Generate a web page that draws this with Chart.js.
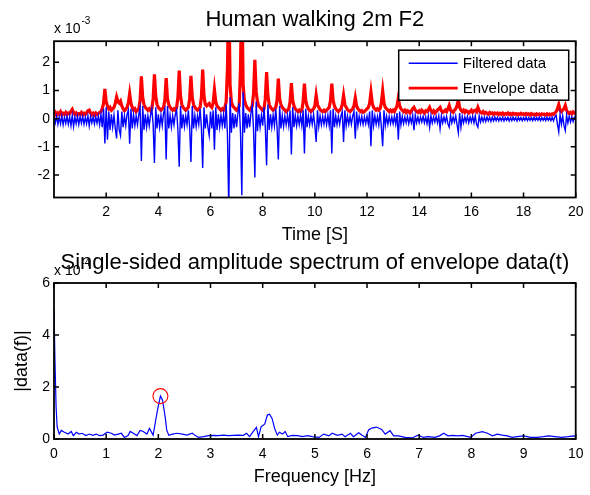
<!DOCTYPE html>
<html><head><meta charset="utf-8">
<script src="https://cdn.jsdelivr.net/npm/chart.js@4.4.1/dist/chart.umd.min.js"></script>
<style>
html,body{margin:0;padding:0;background:#fff;}
#wrap{position:relative;width:590px;height:495px;overflow:hidden;}
#c1{position:absolute;left:0;top:0;}
#c2{position:absolute;left:0;top:247px;}
</style></head><body>
<div id="wrap"><canvas id="c1" width="590" height="250"></canvas><canvas id="c2" width="590" height="248"></canvas></div>
<script>
// ---------- Top plot: time signals (values in units of 1e-3) ----------
const timeStep = 0.05; // s, sample spacing of the arrays below (t = 0.00 ... 20.00), one row = 1 s
const envelopeData = [
  0.15,0.22,0.12,0.20,0.16,0.24,0.13,0.19,0.15,0.22,0.14,0.20,0.18,0.26,0.33,0.22,0.15,0.20,0.13,0.18,
  0.16,0.22,0.13,0.19,0.15,0.21,0.28,0.30,0.20,0.14,0.19,0.13,0.20,0.15,0.18,0.22,0.25,0.35,0.55,1.06,
  0.60,0.45,0.35,0.40,0.30,0.35,0.40,0.55,0.77,0.60,0.55,0.62,0.45,0.35,0.28,0.33,0.40,0.55,0.89,0.55,
  0.40,0.30,0.35,0.25,0.30,0.35,0.65,1.50,0.75,0.50,0.40,0.35,0.30,0.35,0.28,0.35,0.70,1.57,0.80,0.50,
  0.40,0.35,0.30,0.35,0.40,0.65,1.44,0.70,0.50,0.40,0.35,0.30,0.35,0.30,0.40,0.75,1.71,0.80,0.50,0.40,
  0.35,0.30,0.35,0.40,0.70,1.52,0.75,0.50,0.40,0.35,0.30,0.35,0.40,0.75,1.74,0.80,0.50,0.45,0.50,0.54,
  0.45,0.40,0.55,1.03,0.60,0.45,0.40,0.35,0.30,0.35,0.30,0.40,0.60,1.80,5.00,1.20,0.60,0.45,0.40,0.35,
  0.30,0.35,0.45,1.80,5.00,1.20,0.65,0.50,0.40,0.35,0.30,0.35,0.45,0.90,2.09,0.95,0.60,0.45,0.40,0.35,
  0.30,0.35,0.70,1.65,0.80,0.50,0.40,0.35,0.30,0.35,0.40,0.65,1.42,0.70,0.50,0.40,0.35,0.30,0.25,0.30,
  0.35,0.60,1.26,0.65,0.45,0.35,0.30,0.25,0.30,0.25,0.30,0.60,1.24,0.65,0.45,0.35,0.30,0.25,0.30,0.35,
  0.45,0.83,0.50,0.40,0.32,0.28,0.25,0.30,0.25,0.30,0.35,0.40,0.65,1.24,0.65,0.45,0.35,0.30,0.25,0.30,
  0.35,0.50,0.83,0.50,0.40,0.32,0.28,0.25,0.30,0.35,0.45,0.74,0.45,0.35,0.30,0.25,0.28,0.22,0.25,0.30,
  0.35,0.40,0.55,0.94,0.55,0.40,0.35,0.30,0.35,0.30,0.35,0.55,0.98,0.55,0.40,0.35,0.30,0.25,0.30,0.25,
  0.30,0.25,0.35,0.45,0.74,0.45,0.35,0.30,0.25,0.30,0.22,0.28,0.25,0.20,0.28,0.35,0.40,0.30,0.25,0.22,
  0.28,0.22,0.30,0.25,0.20,0.28,0.25,0.32,0.40,0.28,0.22,0.28,0.20,0.25,0.30,0.35,0.40,0.28,0.22,0.25,
  0.30,0.25,0.35,0.47,0.30,0.25,0.22,0.30,0.35,0.45,0.65,0.40,0.30,0.25,0.30,0.22,0.28,0.25,0.20,0.25,
  0.30,0.22,0.28,0.30,0.25,0.40,0.28,0.22,0.20,0.25,0.18,0.22,0.20,0.16,0.22,0.18,0.20,0.15,0.20,0.17,
  0.20,0.15,0.19,0.16,0.20,0.14,0.18,0.16,0.20,0.15,0.18,0.14,0.19,0.16,0.18,0.14,0.17,0.15,0.19,0.15,
  0.17,0.14,0.18,0.15,0.17,0.13,0.18,0.15,0.16,0.13,0.17,0.14,0.16,0.13,0.17,0.15,0.16,0.13,0.17,0.14,
  0.16,0.13,0.17,0.15,0.20,0.25,0.35,0.50,0.30,0.25,0.30,0.35,0.47,0.30,0.22,0.18,0.22,0.17,0.24,0.20,
  0.18
];
const filteredData = [
  0.05,-0.15,0.08,-0.20,0.06,-0.18,0.10,-0.22,0.05,-0.17,0.08,-0.20,0.07,-0.25,0.12,-0.28,0.06,-0.18,0.09,-0.21,
  0.07,-0.16,0.08,-0.20,0.05,-0.18,0.10,-0.26,0.08,-0.15,0.06,-0.19,0.07,-0.16,0.10,-0.22,0.15,-0.30,0.35,-0.88,
  0.40,-0.75,0.25,-0.40,0.15,-0.30,0.12,-0.35,-0.70,0.30,-0.40,-0.60,0.25,-0.30,0.10,-0.25,0.15,0.30,-0.89,0.35,
  -0.35,0.15,-0.25,0.10,-0.22,0.15,0.40,-1.50,0.45,-0.40,0.15,-0.30,0.10,-0.25,0.12,0.35,-0.20,-1.57,0.40,-0.35,
  0.15,-0.30,0.12,-0.25,0.20,0.35,-1.45,0.45,-0.35,0.12,-0.30,0.10,-0.22,0.15,0.30,-0.40,-1.71,0.45,-0.35,0.15,
  -0.28,0.10,-0.22,0.30,-0.30,-1.54,0.45,-0.35,0.12,-0.28,0.10,-0.20,0.35,-0.30,-1.75,0.40,-0.35,0.15,-0.30,-0.60,
  0.25,-0.35,0.30,-1.10,0.40,-0.40,0.15,-0.30,0.12,-0.25,0.15,-0.35,0.50,-0.60,-3.20,0.77,-0.50,0.20,-0.35,0.15,
  -0.30,0.20,0.55,-0.50,-2.72,0.95,-0.50,0.20,-0.35,0.15,-0.30,0.20,0.45,-0.40,-2.09,0.60,-0.45,0.15,-0.30,0.12,
  -0.25,0.40,-0.30,-1.66,0.50,-0.40,0.15,-0.30,0.12,-0.25,0.35,-0.30,-1.45,0.45,-0.35,0.12,-0.28,0.10,-0.22,0.12,
  -0.25,0.30,-1.27,0.40,-0.30,0.12,-0.25,0.10,-0.22,0.12,-0.25,0.30,-1.24,0.35,-0.30,0.10,-0.22,0.10,-0.20,0.15,
  -0.25,-0.83,0.30,-0.28,0.10,-0.22,0.08,-0.20,0.10,-0.22,0.12,-0.25,0.30,-1.24,0.35,-0.30,0.10,-0.22,0.08,-0.20,
  0.10,0.25,-0.83,0.30,-0.25,0.10,-0.20,0.08,-0.20,0.10,0.25,-0.71,0.25,-0.25,0.08,-0.18,0.08,-0.20,0.06,-0.18,
  0.08,-0.20,0.25,-0.98,0.30,-0.25,0.10,-0.20,0.08,-0.22,0.25,-0.30,-0.98,0.30,-0.25,0.08,-0.20,0.08,-0.18,0.06,
  -0.18,0.08,-0.20,0.20,-0.75,0.25,-0.22,0.08,-0.18,0.06,-0.15,0.08,-0.18,0.06,-0.15,0.12,-0.41,0.12,-0.15,0.06,
  -0.15,0.06,-0.12,0.08,-0.15,0.06,-0.18,0.10,-0.30,0.10,-0.15,0.06,-0.12,0.08,-0.15,0.10,-0.35,0.10,-0.15,0.06,
  -0.12,0.08,-0.18,-0.30,0.12,-0.15,0.06,-0.12,0.10,-0.20,-0.50,0.20,-0.30,0.08,-0.15,0.06,-0.12,0.08,-0.15,0.06,
  -0.12,0.08,-0.15,0.10,-0.20,-0.30,0.10,-0.12,0.06,-0.10,0.05,-0.10,0.06,-0.08,0.05,-0.10,0.05,-0.08,0.06,-0.07,
  0.05,-0.08,0.04,-0.07,0.05,-0.08,0.04,-0.06,0.05,-0.08,0.04,-0.07,0.05,-0.06,0.04,-0.08,0.05,-0.06,0.04,-0.07,
  0.04,-0.06,0.05,-0.07,0.04,-0.06,0.04,-0.07,0.05,-0.06,0.04,-0.06,0.05,-0.07,0.04,-0.06,0.04,-0.07,0.05,-0.06,
  0.04,-0.07,0.05,-0.08,0.06,0.12,-0.20,-0.47,0.15,-0.20,0.10,-0.25,-0.42,0.12,-0.15,0.08,-0.12,0.06,-0.10,0.05,
  -0.05
];
const timeTicks = [2,4,6,8,10,12,14,16,18,20];
const topYTicks = [-2,-1,0,1,2];

// ---------- Bottom plot: spectrum (values in units of 1e-4) ----------
const freqHz = [0,0.02,0.04,0.06,0.1,0.14,0.2,0.27,0.33,0.37,
  0.43,0.48,0.54,0.61,0.68,0.74,0.81,0.87,0.94,1.02,
  1.1,1.16,1.23,1.29,1.35,1.42,1.46,1.52,1.59,1.65,
  1.71,1.78,1.83,1.9,1.95,1.99,2.04,2.08,2.13,2.16,
  2.2,2.27,2.36,2.46,2.55,2.65,2.71,2.77,2.87,2.96,
  3.06,3.15,3.25,3.34,3.44,3.53,3.63,3.69,3.75,3.82,
  3.88,3.92,3.97,4.04,4.09,4.13,4.18,4.23,4.28,4.32,
  4.38,4.43,4.48,4.57,4.67,4.76,4.86,4.95,5.08,5.17,
  5.27,5.33,5.43,5.52,5.58,5.68,5.74,5.84,5.9,5.97,
  6.03,6.09,6.18,6.28,6.35,6.44,6.51,6.6,6.73,6.86,
  6.98,7.08,7.17,7.3,7.39,7.47,7.55,7.64,7.74,7.83,
  7.93,7.99,8.08,8.21,8.31,8.4,8.5,8.59,8.69,8.78,
  8.88,9.0,9.13,9.26,9.38,9.48,9.6,9.73,9.86,9.95,
  10.0];
const amplitude = [4.99,2.9,1.24,0.47,0.19,0.33,0.26,0.19,0.29,0.13,
  0.26,0.19,0.22,0.13,0.19,0.14,0.19,0.13,0.15,0.26,
  0.22,0.15,0.19,0.22,0.06,0.13,0.29,0.22,0.13,0.33,
  0.29,0.19,0.41,0.15,0.73,1.18,1.65,1.5,0.86,0.35,
  0.14,0.19,0.22,0.19,0.15,0.22,0.13,0.06,0.09,0.13,
  0.14,0.13,0.15,0.13,0.14,0.15,0.14,0.22,0.09,0.29,
  0.45,0.09,0.47,0.58,0.92,0.95,0.79,0.4,0.15,0.26,
  0.19,0.29,0.09,0.14,0.13,0.09,0.13,0.09,0.06,0.19,
  0.12,0.22,0.14,0.19,0.09,0.22,0.09,0.24,0.15,0.06,
  0.35,0.42,0.46,0.37,0.19,0.32,0.12,0.12,0.06,0.04,
  0.15,0.06,0.09,0.06,0.12,0.22,0.12,0.14,0.12,0.14,
  0.09,0.06,0.22,0.28,0.22,0.12,0.19,0.15,0.12,0.06,
  0.09,0.12,0.06,0.06,0.09,0.12,0.09,0.06,0.09,0.12,
  0.1];
const peakMarker = {freq: 2.04, amp: 1.65};
const freqTicks = [0,1,2,3,4,5,6,7,8,9,10];
const bottomYTicks = [0,2,4,6];

// ---------- styling / helpers ----------
const FONT = "'Liberation Sans', Arial, Helvetica, sans-serif";
Chart.defaults.font.family = FONT;
Chart.defaults.color = '#000';

const matlabAxes = {
  id: 'matlabAxes',
  afterDatasetsDraw(chart, args, opts) {
    const {ctx, chartArea: a, scales: {x, y}} = chart;
    ctx.save();
    ctx.strokeStyle = '#000';
    ctx.lineWidth = 1.5;
    const L = 5;
    ctx.beginPath();
    x.ticks.forEach(t => {
      const px = x.getPixelForValue(t.value);
      ctx.moveTo(px, a.bottom); ctx.lineTo(px, a.bottom - L);
      ctx.moveTo(px, a.top); ctx.lineTo(px, a.top + L);
    });
    y.ticks.forEach(t => {
      const py = y.getPixelForValue(t.value);
      ctx.moveTo(a.left, py); ctx.lineTo(a.left + L, py);
      ctx.moveTo(a.right, py); ctx.lineTo(a.right - L, py);
    });
    ctx.stroke();
    ctx.lineWidth = 1.8;
    ctx.strokeRect(a.left, a.top, a.right - a.left, a.bottom - a.top);
    // exponent label
    ctx.fillStyle = '#000';
    ctx.textAlign = 'left';
    ctx.textBaseline = 'alphabetic';
    ctx.font = '14px ' + FONT;
    const base = 'x 10';
    ctx.fillText(base, a.left, a.top - 8);
    const w = ctx.measureText(base).width;
    ctx.font = '10px ' + FONT;
    ctx.fillText(opts.exponent, a.left + w + 1, a.top - 17);
    // legend
    if (opts.legend) {
      const bw = 170, bh = 50;
      const bx = a.right - 7 - bw, by = a.top + 9;
      ctx.fillStyle = '#fff';
      ctx.fillRect(bx, by, bw, bh);
      ctx.lineWidth = 1.5;
      ctx.strokeStyle = '#000';
      ctx.strokeRect(bx, by, bw, bh);
      ctx.font = '15px ' + FONT;
      ctx.textBaseline = 'middle';
      chart.data.datasets.forEach((ds, i) => {
        const ly = by + 13 + i * 25;
        ctx.beginPath();
        ctx.strokeStyle = ds.borderColor;
        ctx.lineWidth = Math.min(ds.borderWidth, 2.8);
        ctx.moveTo(bx + 10, ly); ctx.lineTo(bx + 59, ly);
        ctx.stroke();
        ctx.fillStyle = '#000';
        ctx.fillText(ds.label, bx + 64, ly + 0.5);
      });
    }
    ctx.restore();
  }
};

const fixedTicks = arr => (s => { s.ticks = arr.map(v => ({value: v})); });

// ---------- Top chart ----------
const topFiltered = filteredData.map((v, i) => ({x: +(i * timeStep).toFixed(2), y: v}));
const topEnvelope = envelopeData.map((v, i) => ({x: +(i * timeStep).toFixed(2), y: v}));

new Chart(document.getElementById('c1'), {
  type: 'line',
  data: {
    datasets: [
      {label: 'Filtered data', data: topFiltered, borderColor: '#0000ff', borderWidth: 1.4,
       pointRadius: 0, tension: 0, fill: false, clip: 0},
      {label: 'Envelope data', data: topEnvelope, borderColor: '#ff0000', borderWidth: 3.2,
       pointRadius: 0, tension: 0, fill: false, clip: 0}
    ]
  },
  options: {
    responsive: false, animation: false, events: [],
    layout: {padding: {left: 0, right: 9, top: 0, bottom: 0}},
    plugins: {
      legend: {display: false}, tooltip: {enabled: false},
      title: {display: true, text: 'Human walking 2m F2', fullSize: false,
              font: {size: 22, weight: 'normal'}, color: '#000', padding: {top: 6.3, bottom: 8.5}},
      matlabAxes: {exponent: '-3', legend: true}
    },
    scales: {
      x: {type: 'linear', min: 0, max: 20, afterBuildTicks: fixedTicks(timeTicks),
          grid: {display: false, drawTicks: false}, border: {display: false},
          ticks: {font: {size: 14}, padding: 6.5, maxRotation: 0, autoSkip: false, color: '#000'},
          title: {display: true, text: 'Time [S]', font: {size: 18}, color: '#000', padding: {top: 0, bottom: 3.7}},
          afterFit: s => { s.height = 52.5; }},
      y: {type: 'linear', min: -2.8, max: 2.75, afterBuildTicks: fixedTicks(topYTicks),
          grid: {display: false, drawTicks: false}, border: {display: false},
          ticks: {font: {size: 14}, padding: 4, color: '#000'},
          afterFit: s => { s.width = 54; }}
    }
  },
  plugins: [matlabAxes]
});

// ---------- Bottom chart ----------
const spectrumPts = freqHz.map((f, i) => ({x: f, y: amplitude[i]}));

new Chart(document.getElementById('c2'), {
  type: 'line',
  data: {
    datasets: [
      {label: 'peak', data: [{x: peakMarker.freq, y: peakMarker.amp}], showLine: false,
       pointRadius: 7.5, pointStyle: 'circle', pointBorderColor: '#ff0000', pointBorderWidth: 1.1,
       pointBackgroundColor: 'rgba(0,0,0,0)', borderColor: '#ff0000', clip: 0},
      {label: 'spectrum', data: spectrumPts, borderColor: '#0000ff', borderWidth: 1.2,
       pointRadius: 0, tension: 0, fill: false, clip: 0}
    ]
  },
  options: {
    responsive: false, animation: false, events: [],
    layout: {padding: {left: 0, right: 9, top: 0, bottom: 0}},
    plugins: {
      legend: {display: false}, tooltip: {enabled: false},
      title: {display: true, text: 'Single-sided amplitude spectrum of envelope data(t)', fullSize: false,
              font: {size: 22, weight: 'normal'}, color: '#000', padding: {top: 2.3, bottom: 7.3}},
      matlabAxes: {exponent: '-4', legend: false}
    },
    scales: {
      x: {type: 'linear', min: 0, max: 10, afterBuildTicks: fixedTicks(freqTicks),
          grid: {display: false, drawTicks: false}, border: {display: false},
          ticks: {font: {size: 14}, padding: 6.5, maxRotation: 0, autoSkip: false, color: '#000'},
          title: {display: true, text: 'Frequency [Hz]', font: {size: 18}, color: '#000', padding: {top: 0, bottom: 7.5}},
          afterFit: s => { s.height = 56; }},
      y: {type: 'linear', min: 0, max: 6, afterBuildTicks: fixedTicks(bottomYTicks),
          grid: {display: false, drawTicks: false}, border: {display: false},
          ticks: {font: {size: 14}, padding: 4, color: '#000'},
          title: {display: true, text: '|data(f)|', font: {size: 18}, color: '#000', padding: {top: 11.5, bottom: 0}},
          afterFit: s => { s.width = 54; }}
    }
  },
  plugins: [matlabAxes]
});
</script></body></html>
